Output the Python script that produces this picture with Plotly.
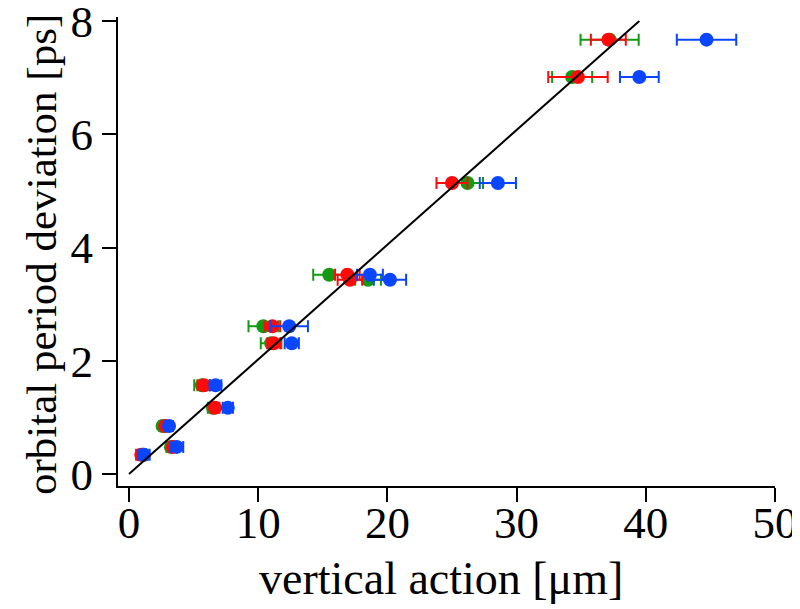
import plotly.graph_objects as go

# Data
y_levels = [7.67, 7.01, 5.14, 3.52, 3.43, 2.61, 2.31, 1.57, 1.17, 0.85, 0.48, 0.34]

green_x = [37.2, 34.3, 26.2, 15.5, 18.5, 10.4, 11.0, 5.65, 6.5, 2.6, 3.25, 1.1]
green_err = [2.25, 1.55, 1.2, 1.24, 1.0, 1.15, 0.8, 0.6, 0.4, 0.25, 0.35, 0.35]

red_x = [37.1, 34.75, 25.0, 16.9, 17.1, 11.1, 11.2, 5.8, 6.65, 2.8, 3.4, 0.95]
red_err = [1.35, 2.3, 1.2, 0.95, 0.95, 0.6, 0.5, 0.5, 0.35, 0.25, 0.35, 0.4]

blue_x = [44.7, 39.5, 28.55, 18.65, 20.2, 12.4, 12.6, 6.7, 7.65, 3.1, 3.7, 1.15]
blue_err = [2.3, 1.5, 1.4, 1.0, 1.25, 1.45, 0.55, 0.45, 0.4, 0.3, 0.5, 0.45]

fit_slope = 0.2025
fit_x = [0.0, 39.5]
fit_y = [fit_slope * v for v in fit_x]

x_ticks = [0, 10, 20, 30, 40, 50]
y_ticks = [0, 2, 4, 6, 8]

x_title = "vertical action [μm]"
y_title = "orbital period deviation [ps]"

FONT = "Liberation Serif"
FS = 45

fig = go.Figure()

series = [
    (green_x, green_err, "#129a12"),
    (red_x, red_err, "#ff0a0a"),
    (blue_x, blue_err, "#0a46ff"),
]
for xs, errs, col in series:
    fig.add_trace(go.Scatter(
        x=xs, y=y_levels, mode="markers",
        marker=dict(size=14, color=col, line=dict(width=0)),
        error_x=dict(type="data", array=errs, symmetric=True,
                     color=col, thickness=2, width=6),
        showlegend=False,
    ))

fig.add_trace(go.Scatter(
    x=fit_x, y=fit_y, mode="lines",
    line=dict(color="black", width=2),
    showlegend=False,
))

# page body has an 8px default margin; figure sized to fit the 800x609 window
W, H = 792, 601
ML, MR, MT, MB = 110, 25, 9, 123
PW, PH = W - ML - MR, H - MT - MB

fig.update_layout(
    width=W, height=H,
    margin=dict(l=ML, r=MR, t=MT, b=MB, autoexpand=False),
    paper_bgcolor="white", plot_bgcolor="white",
    font=dict(family=FONT, size=FS, color="black"),
)
fig.update_xaxes(
    range=[-0.85, 50], tickvals=x_ticks, automargin=False,
    showgrid=False, zeroline=False,
    showline=True, linecolor="black", linewidth=2,
    ticks="outside", ticklen=14, tickwidth=2, tickcolor="black",
    tickfont=dict(family=FONT, size=FS), ticklabeloverflow="allow",
    ticklabelstandoff=-18,
)
fig.update_yaxes(
    range=[-0.21, 8.07], tickvals=y_ticks, automargin=False,
    showgrid=False, zeroline=False,
    showline=True, linecolor="black", linewidth=2,
    ticks="outside", ticklen=14, tickwidth=2, tickcolor="black",
    tickfont=dict(family=FONT, size=FS), ticklabeloverflow="allow",
)

# axis titles placed at the reference's page positions (page = fig + 8px)
fig.add_annotation(
    text=x_title, xref="paper", yref="paper",
    x=(441 - 8 - ML) / PW, y=-(578 - 8 - (H - MB)) / PH,
    xanchor="center", yanchor="middle", showarrow=False,
    font=dict(family=FONT, size=46),
)
fig.add_annotation(
    text=y_title, xref="paper", yref="paper",
    x=-(ML - (41 - 8)) / PW, y=((H - MB) - (255 - 8)) / PH,
    xanchor="center", yanchor="middle", showarrow=False, textangle=-90,
    font=dict(family=FONT, size=43),
)

fig.write_html("out.html")
